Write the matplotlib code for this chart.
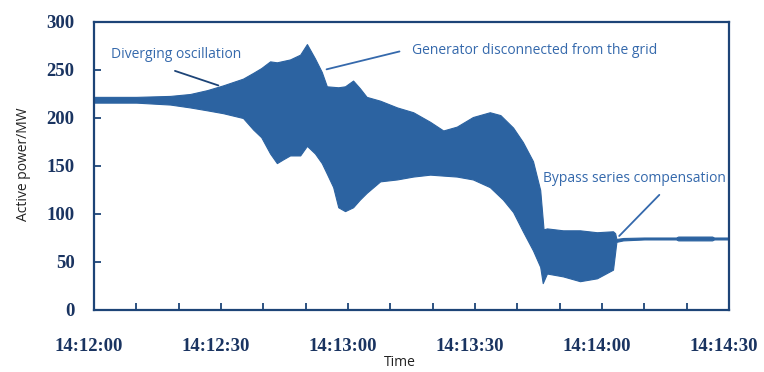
import matplotlib
matplotlib.use("Agg")
import matplotlib.pyplot as plt
import numpy as np
from matplotlib.ticker import MultipleLocator
from matplotlib.transforms import ScaledTranslation

# Envelope of the active power oscillation (seconds after 14:12:00, MW)
t_upper = [0, 10, 18, 22.7, 26.7, 30.5, 35.2, 37.6, 39.5, 41.6, 43.2, 46.3, 48.7,
           50.3, 52.2, 53.8, 55, 57.7, 59.3, 61.2, 62.8, 64.4, 67.6, 71.6, 75.4,
           79.4, 82.5, 85.7, 89.5, 93.5, 96, 99, 101.3, 103.7, 105.4, 106.2, 107,
           110.8, 114.8, 118.8, 122.6, 123.1, 123.4, 125, 130, 137.5, 138, 146,
           146.5, 150]
p_upper = [222, 222, 223, 225, 229, 234, 241, 247, 252, 259, 258, 261, 266,
           277, 262, 248, 233, 232, 233, 239, 231, 222, 218, 211, 206,
           196, 187, 191, 201, 206, 203, 190, 175, 155, 125, 84, 85,
           83, 83, 81, 82, 80, 74, 75, 75.5, 75.5, 76.5, 76.5,
           75.5, 75.5]

t_lower = [0, 10, 18, 22.7, 26.7, 30.5, 35.2, 37.6, 39.5, 41.6, 43.2, 44.7, 46.3,
           48.7, 50.3, 52.2, 53.8, 55, 56.5, 57.7, 59.3, 61.2, 62.8, 64.4, 67.6,
           71.6, 75.4, 79.4, 82.5, 85.7, 89.5, 93.5, 96.6, 99, 101.3, 103.7, 105.4,
           106, 107, 110.8, 114.8, 118.8, 122.6, 123.1, 123.4, 125, 130, 137.5,
           138, 146, 146.5, 150]
p_lower = [216, 216, 214, 211, 208, 205, 200, 188, 180, 163, 153, 157, 161,
           161, 171, 163, 153, 142, 128, 107, 103, 107, 115, 122, 134,
           136, 139, 141, 140, 139, 136, 128, 115, 102, 82, 62, 45,
           28, 38, 35, 30, 33, 42, 60, 71, 72.5, 73.5, 73.5,
           72.5, 72.5, 73.5, 73.5]

time_ticks = [0, 30, 60, 90, 120, 150]
time_labels = ["14:12:00", "14:12:30", "14:13:00", "14:13:30", "14:14:00", "14:14:30"]
power_ticks = [0, 50, 100, 150, 200, 250, 300]

fill_color = "#2c63a1"
spine_color = "#1d4477"
label_color = "#1a3461"
note_color = "#3569ac"

fig = plt.figure(figsize=(7.64, 3.72), dpi=100)
ax = fig.add_axes([94 / 764, 1 - 310 / 372, 635 / 764, 288 / 372])

# Common time grid so the band can be filled between both envelopes
t_all = np.array(sorted(set(t_upper) | set(t_lower)))
up = np.interp(t_all, t_upper, p_upper)
lo = np.interp(t_all, t_lower, p_lower)
ax.fill_between(t_all, lo, up, color=fill_color, linewidth=0.8,
                edgecolor=fill_color)

ax.set_xlim(0, 150)
ax.set_ylim(0, 300)

for s in ax.spines.values():
    s.set_color(spine_color)
    s.set_linewidth(1.6)

ax.set_xticks(time_ticks)
ax.set_xticklabels(time_labels)
ax.xaxis.set_minor_locator(MultipleLocator(10))
ax.set_yticks(power_ticks)

tick_font = dict(family="Liberation Serif", weight="bold", size=13.5)
ax.tick_params(axis="both", which="both", direction="in", colors=spine_color,
               length=5, width=1.3, labelcolor=label_color)
ax.tick_params(axis="x", pad=20)
ax.tick_params(axis="y", pad=14)
for lab in ax.get_xticklabels() + ax.get_yticklabels():
    lab.set_fontproperties(tick_font)
    lab.set_color(label_color)

shift = ScaledTranslation(-5 / 100, 0, fig.dpi_scale_trans)
for lab in ax.get_xticklabels():
    lab.set_transform(lab.get_transform() + shift)

fig.text(24 / 764, 1 - 164 / 372, "Active power/MW", rotation=90,
         ha="center", va="center", fontsize=10, family="Open Sans",
         color="#222222")
fig.text(400 / 764, 2 / 372, "Time", ha="center", va="bottom",
         fontsize=10, family="Open Sans", color="#222222")

note_font = dict(fontsize=10, family="Open Sans", color=note_color)
fig.text(111 / 764, 1 - 55 / 372, "Diverging oscillation", ha="left",
         va="center", **note_font)
fig.text(412 / 764, 1 - 51 / 372, "Generator disconnected from the grid",
         ha="left", va="center", **note_font)
fig.text(543 / 764, 1 - 178 / 372, "Bypass series compensation", ha="left",
         va="center", **note_font)

# Leader lines from the notes to the curve
ax.annotate("", xy=(30, 233), xytext=(18.5, 250),
            arrowprops=dict(arrowstyle="-", color=spine_color, lw=1.3))
ax.annotate("", xy=(54.3, 250), xytext=(72.8, 270),
            arrowprops=dict(arrowstyle="-", color=note_color, lw=1.3))
ax.annotate("", xy=(123.6, 75), xytext=(134, 122),
            arrowprops=dict(arrowstyle="-", color=note_color, lw=1.3))

fig.savefig("out.png", dpi=100)
